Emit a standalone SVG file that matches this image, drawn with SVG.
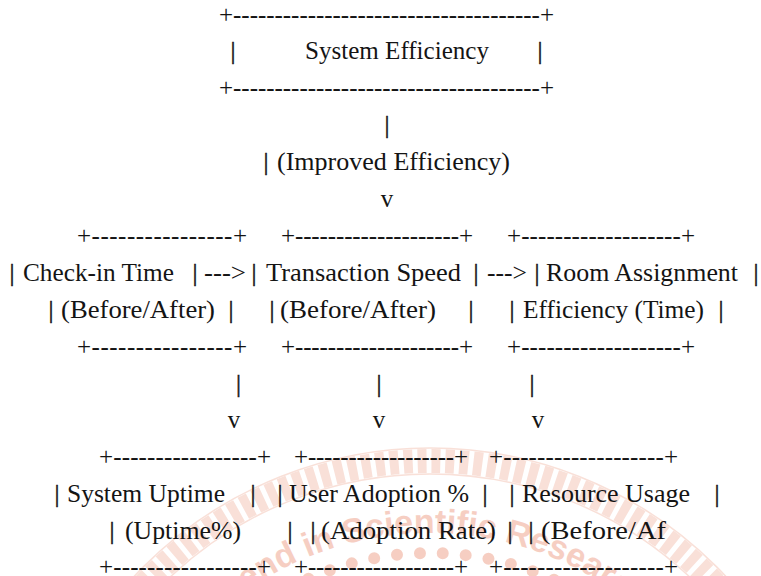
<svg xmlns="http://www.w3.org/2000/svg" width="761" height="576" viewBox="0 0 761 576">
<style>
.t{font-family:"Liberation Serif","Times New Roman",serif;font-size:25px;fill:#141414;opacity:0.999}
.c{text-anchor:middle;stroke:#141414;stroke-width:0.45}
.wm{fill:none;stroke:#f8d9cf}
.wt{font-family:"Liberation Sans",Arial,sans-serif;font-weight:bold;font-size:34px;fill:#f5c3b4}
</style>
<defs>
<path id="arcText" d="M110,853 A320,320 0 0 1 750,853"/>
</defs>
<rect width="761" height="576" fill="#ffffff"/>
<g id="watermark" opacity="0.8">
<circle class="wm" cx="430" cy="853" r="392" stroke-width="24" stroke-dasharray="9 5"/>
<circle class="wm" cx="430" cy="853" r="405" stroke-width="1.5"/>
<circle class="wm" cx="430" cy="853" r="379" stroke-width="1.5"/>
<circle cx="430" cy="853" r="300" fill="none" stroke="#f5c3b4" stroke-width="12" stroke-linecap="round" stroke-dasharray="0 23"/>
<text class="wt"><textPath href="#arcText" startOffset="50%" text-anchor="middle">Trend in Scientific Research</textPath></text>
</g>
<g id="system-efficiency" class="t">
<text x="219" y="22.5" textLength="335" lengthAdjust="spacing">+-------------------------------------+</text>
<text class="c" x="233" y="59.4">|</text>
<text x="305" y="59.4" textLength="184" lengthAdjust="spacingAndGlyphs">System Efficiency</text>
<text class="c" x="540" y="59.4">|</text>
<text x="219" y="96.3" textLength="335" lengthAdjust="spacing">+-------------------------------------+</text>
</g>
<g id="check-in-time" class="t">
<text x="77" y="243.9" textLength="170" lengthAdjust="spacing">+----------------+</text>
<text class="c" x="12" y="280.8">|</text>
<text x="23" y="280.8" textLength="151" lengthAdjust="spacingAndGlyphs">Check-in Time</text>
<text class="c" x="195" y="280.8">|</text>
<text class="c" x="51" y="317.7">|</text>
<text x="61" y="317.7" textLength="154" lengthAdjust="spacingAndGlyphs">(Before/After)</text>
<text class="c" x="231" y="317.7">|</text>
<text x="77" y="354.6" textLength="170" lengthAdjust="spacing">+----------------+</text>
</g>
<g id="transaction-speed" class="t">
<text x="281" y="243.9" textLength="192" lengthAdjust="spacing">+--------------------+</text>
<text class="c" x="254" y="280.8">|</text>
<text x="266" y="280.8" textLength="195" lengthAdjust="spacingAndGlyphs">Transaction Speed</text>
<text class="c" x="476" y="280.8">|</text>
<text class="c" x="272" y="317.7">|</text>
<text x="280" y="317.7" textLength="156" lengthAdjust="spacingAndGlyphs">(Before/After)</text>
<text class="c" x="471" y="317.7">|</text>
<text x="281" y="354.6" textLength="192" lengthAdjust="spacing">+--------------------+</text>
</g>
<g id="room-assignment" class="t">
<text x="507" y="243.9" textLength="188" lengthAdjust="spacing">+-------------------+</text>
<text class="c" x="537" y="280.8">|</text>
<text x="546" y="280.8" textLength="192" lengthAdjust="spacingAndGlyphs">Room Assignment</text>
<text class="c" x="756" y="280.8">|</text>
<text class="c" x="512" y="317.7">|</text>
<text x="523" y="317.7" textLength="181" lengthAdjust="spacingAndGlyphs">Efficiency (Time)</text>
<text class="c" x="721" y="317.7">|</text>
<text x="507" y="354.6" textLength="188" lengthAdjust="spacing">+-------------------+</text>
</g>
<g id="system-uptime" class="t">
<text x="99" y="465.3" textLength="172" lengthAdjust="spacing">+-----------------+</text>
<text class="c" x="57" y="502.2">|</text>
<text x="67" y="502.2" textLength="158" lengthAdjust="spacingAndGlyphs">System Uptime</text>
<text class="c" x="253" y="502.2">|</text>
<text class="c" x="112" y="539.1">|</text>
<text x="125" y="539.1" textLength="116" lengthAdjust="spacingAndGlyphs">(Uptime%)</text>
<text class="c" x="290" y="539.1">|</text>
<text x="99" y="574.5" textLength="172" lengthAdjust="spacing">+-----------------+</text>
</g>
<g id="user-adoption" class="t">
<text x="294" y="465.3" textLength="174" lengthAdjust="spacing">+------------------+</text>
<text class="c" x="280" y="502.2">|</text>
<text x="289" y="502.2" textLength="180" lengthAdjust="spacingAndGlyphs">User Adoption %</text>
<text class="c" x="485" y="502.2">|</text>
<text class="c" x="313" y="539.1">|</text>
<text x="321" y="539.1" textLength="175" lengthAdjust="spacingAndGlyphs">(Adoption Rate)</text>
<text class="c" x="510" y="539.1">|</text>
<text x="294" y="574.5" textLength="174" lengthAdjust="spacing">+------------------+</text>
</g>
<g id="resource-usage" class="t">
<text x="489" y="465.3" textLength="189" lengthAdjust="spacing">+-------------------+</text>
<text class="c" x="512" y="502.2">|</text>
<text x="522" y="502.2" textLength="168" lengthAdjust="spacingAndGlyphs">Resource Usage</text>
<text class="c" x="717" y="502.2">|</text>
<text class="c" x="531" y="539.1">|</text>
<text x="541" y="539.1" textLength="125" lengthAdjust="spacingAndGlyphs">(Before/Af</text>
<text x="489" y="574.5" textLength="189" lengthAdjust="spacing">+-------------------+</text>
</g>
<g id="connectors" class="t">
<text class="c" x="387" y="133.2">|</text>
<text class="c" x="266" y="170.1">|</text>
<text x="277" y="170.1" textLength="233" lengthAdjust="spacingAndGlyphs">(Improved Efficiency)</text>
<text x="387" y="207" text-anchor="middle">v</text>
<text x="204" y="280.8" textLength="42" lengthAdjust="spacingAndGlyphs">---&gt;</text>
<text x="487" y="280.8" textLength="40" lengthAdjust="spacingAndGlyphs">---&gt;</text>
<text class="c" x="238.5" y="391.5">|</text>
<text class="c" x="379" y="391.5">|</text>
<text class="c" x="532" y="391.5">|</text>
<text x="234" y="428.4" text-anchor="middle">v</text>
<text x="379" y="428.4" text-anchor="middle">v</text>
<text x="538" y="428.4" text-anchor="middle">v</text>
</g>
</svg>
